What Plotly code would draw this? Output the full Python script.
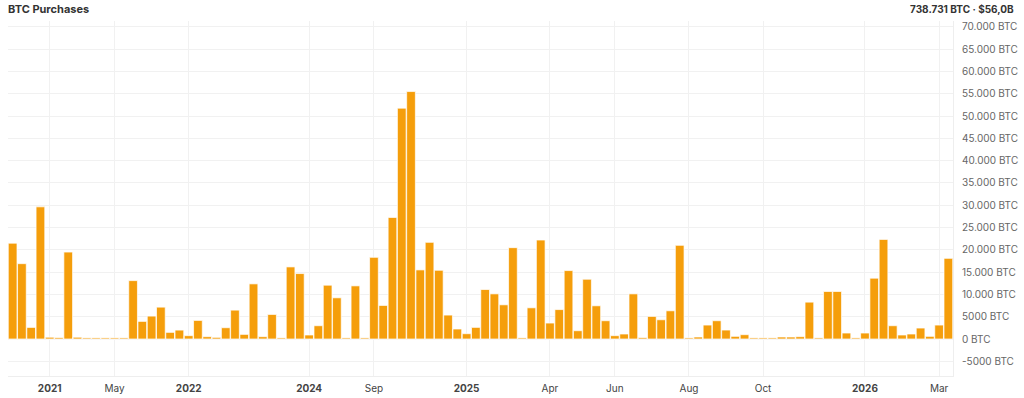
import plotly.graph_objects as go

# Purchase events (in order) and BTC bought per event
purchase_index = list(range(102))
btc_bought = [
    21500, 16900, 2600, 29650, 400, 300, 19500, 400, 250, 250,
    250, 250, 250, 13100, 3950, 5140, 7150, 1490, 2000, 750,
    4170, 520, 370, 2530, 6480, 1040, 12370, 520, 5510, 250,
    16170, 14680, 900, 2980, 12070, 9240, 250, 11920, 250, 18330,
    7530, 27270, 51790, 55510, 15500, 21680, 15420, 5370, 2240, 1190,
    2610, 11100, 10130, 7670, 20490, 250, 7000, 22200, 3580, 6600,
    15350, 1860, 13410, 7450, 4100, 750, 1120, 10130, 300, 5070,
    4320, 6330, 21010, 250, 450, 3130, 4100, 2010, 600, 970,
    250, 250, 250, 450, 450, 520, 8270, 250, 10660, 10660,
    1340, 250, 1340, 13640, 22350, 2980, 900, 1120, 2460, 600,
    3130, 18100,
]

# x-axis labels (at purchase index)
x_tick_pos = [4, 11, 19, 32, 39, 49, 58, 65, 73, 81, 92, 100]
x_tick_text = ["<b>2021</b>", "May", "<b>2022</b>", "<b>2024</b>", "Sep", "<b>2025</b>",
               "Apr", "Jun", "Aug", "Oct", "<b>2026</b>", "Mar"]

# y-axis labels
y_tick_vals = [-5000, 0, 5000, 10000, 15000, 20000, 25000, 30000, 35000,
               40000, 45000, 50000, 55000, 60000, 65000, 70000]
y_tick_text = ["-5000 BTC", "0 BTC", "5000 BTC", "10.000 BTC", "15.000 BTC", "20.000 BTC",
               "25.000 BTC", "30.000 BTC", "35.000 BTC", "40.000 BTC", "45.000 BTC",
               "50.000 BTC", "55.000 BTC", "60.000 BTC", "65.000 BTC", "70.000 BTC"]

title_text = "BTC Purchases"
summary_text = "738.731 BTC · $56,0B"

FONT = "Inter, Roboto, sans-serif"

fig = go.Figure(
    go.Bar(
        x=purchase_index,
        y=btc_bought,
        marker=dict(color="#F59E0B", line=dict(color="rgba(255,255,255,0.7)", width=1)),
        hoverinfo="y",
    )
)

fig.update_layout(
    width=1024,
    height=398,
    margin=dict(l=8, r=71, t=21, b=22),
    paper_bgcolor="white",
    plot_bgcolor="white",
    bargap=0.06,
    showlegend=False,
    font=dict(family=FONT, size=10, color="#555"),
    title=dict(
        text="<b>" + title_text + "</b>",
        font=dict(family=FONT, size=11, color="#333"),
        x=8 / 1024, xref="container", xanchor="left",
        y=1 - 9 / 398, yref="container", yanchor="middle",
    ),
    annotations=[
        dict(
            text="<b>" + summary_text + "</b>",
            xref="paper", yref="paper",
            x=(1016 - 8) / 945, y=1 + 12 / 355,
            xanchor="right", yanchor="middle",
            showarrow=False,
            font=dict(family=FONT, size=10, color="#333"),
        )
    ],
    xaxis=dict(
        range=[-0.5, 101.5],
        tickmode="array",
        tickvals=x_tick_pos,
        ticktext=x_tick_text,
        showgrid=True,
        gridcolor="#f1f1f1",
        gridwidth=1,
        zeroline=False,
        showline=True,
        linecolor="#eeeeee",
        ticks="",
        ticklabelstandoff=3,
        automargin=False,
        tickfont=dict(family=FONT, size=10, color="#444"),
        fixedrange=True,
    ),
    yaxis=dict(
        side="right",
        range=[-8300, 71340],
        tickmode="array",
        tickvals=y_tick_vals,
        ticktext=y_tick_text,
        showgrid=True,
        gridcolor="#f1f1f1",
        gridwidth=1,
        zeroline=False,
        showline=True,
        linecolor="#eeeeee",
        mirror=False,
        ticks="",
        ticklabelstandoff=6,
        automargin=False,
        tickfont=dict(family=FONT, size=10, color="#666"),
        fixedrange=True,
    ),
)

fig.write_html("out.html", config={"displayModeBar": False},
               post_script="document.body.style.margin='0';")
